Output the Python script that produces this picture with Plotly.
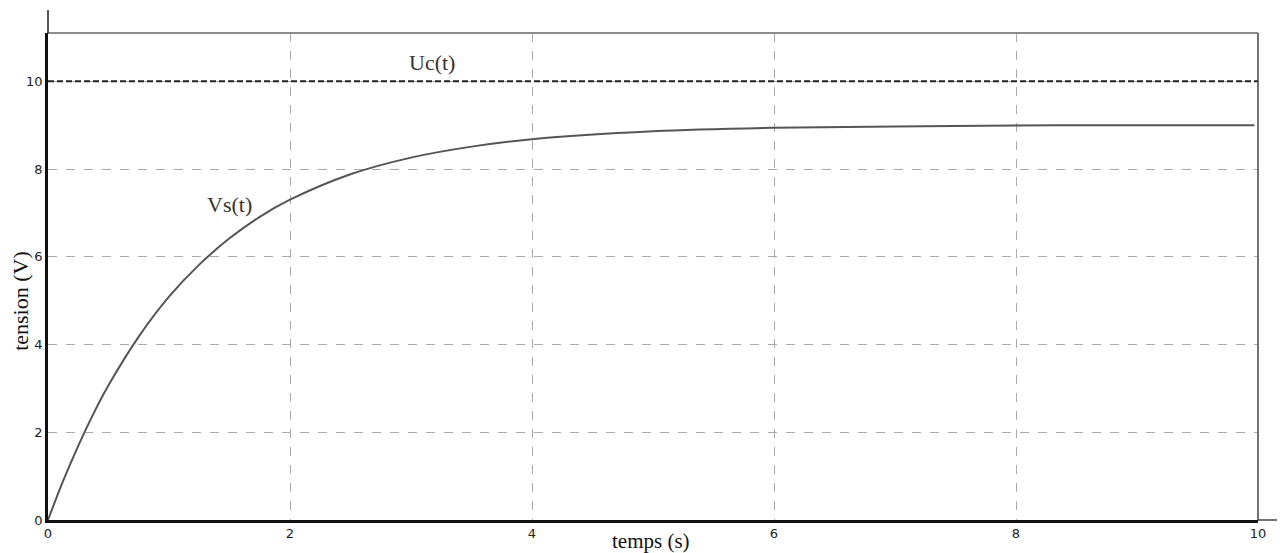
import plotly.graph_objects as go

# Data
t_vs = [0, 0.125, 0.25, 0.375, 0.5, 0.75, 1.0, 1.25, 1.5, 1.75, 2.0, 2.5, 3.0, 3.5, 4.0, 5.0, 6.0, 7.0, 8.0, 9.0, 9.97]
vs = [0, 0.89, 1.69, 2.42, 3.07, 4.18, 5.09, 5.82, 6.42, 6.91, 7.30, 7.88, 8.26, 8.51, 8.68, 8.86, 8.94, 8.97, 8.99, 9.0, 9.0]
t_uc = [0, 10]
uc = [10, 10]
x_ticks = [0, 2, 4, 6, 8, 10]
y_ticks = [0, 2, 4, 6, 8, 10]

fig = go.Figure()
fig.add_trace(go.Scatter(x=t_uc, y=uc, mode="lines",
                         line=dict(color="#222222", width=2.2, dash="6px,3px"),
                         showlegend=False, hoverinfo="skip"))
fig.add_trace(go.Scatter(x=t_vs, y=vs, mode="lines", line_shape="spline",
                         line=dict(color="#555555", width=2),
                         showlegend=False))

serif = "Liberation Serif, Times New Roman, serif"
fig.add_annotation(x=3.17, y=10.43, text="Uc(t)", showarrow=False,
                   font=dict(family=serif, size=22, color="#333333"))
fig.add_annotation(x=1.5, y=7.2, text="Vs(t)", showarrow=False,
                   font=dict(family=serif, size=22, color="#333333"))
# axis titles
fig.add_annotation(xref="paper", yref="paper", x=0.498, y=0, yanchor="middle",
                   yshift=-21, text="temps (s)", showarrow=False,
                   font=dict(family=serif, size=21, color="#111111"))
fig.add_annotation(xref="paper", yref="paper", x=0, y=0.45, xanchor="center",
                   xshift=-27, textangle=-90, text="tension (V)", showarrow=False,
                   font=dict(family=serif, size=22, color="#111111"))

# frame top and right
fig.add_shape(type="line", xref="paper", yref="paper", x0=0, x1=1, y0=1, y1=1,
              line=dict(color="#666666", width=1.5))
fig.add_shape(type="line", xref="paper", yref="paper", x0=1, x1=1, y0=0, y1=1,
              line=dict(color="#444444", width=1.5))
# axis extensions
fig.add_shape(type="line", xref="paper", yref="paper", x0=0, x1=0, y0=1, y1=1.047,
              line=dict(color="#222222", width=1.5))
fig.add_shape(type="line", xref="paper", yref="paper", x0=1, x1=1.022, y0=0, y1=0,
              line=dict(color="#444444", width=1.5))

fig.update_xaxes(range=[0, 10], tickvals=x_ticks, ticktext=[str(v) for v in x_ticks],
                 showgrid=True, gridcolor="#aaaaaa", griddash="dash", gridwidth=1,
                 showline=True, linecolor="#111111", linewidth=2.5,
                 ticks="", zeroline=False, automargin=False,
                 tickfont=dict(family="DejaVu Sans", size=13, color="#222222"))
fig.update_yaxes(range=[0, 11.1], tickvals=y_ticks, ticktext=[str(v) for v in y_ticks],
                 showgrid=True, gridcolor="#aaaaaa", griddash="dash", gridwidth=1,
                 showline=True, linecolor="#111111", linewidth=2.5,
                 ticks="", zeroline=False, automargin=False,
                 tickfont=dict(family="DejaVu Sans", size=13, color="#222222"))

# figure offset for the page's 8px body margin so the plot area lands
# where it does in the reference
fig.update_layout(width=1277, height=553, plot_bgcolor="white", paper_bgcolor="white",
                  margin=dict(l=40, r=27, t=25, b=41))
fig.write_html("out.html")
